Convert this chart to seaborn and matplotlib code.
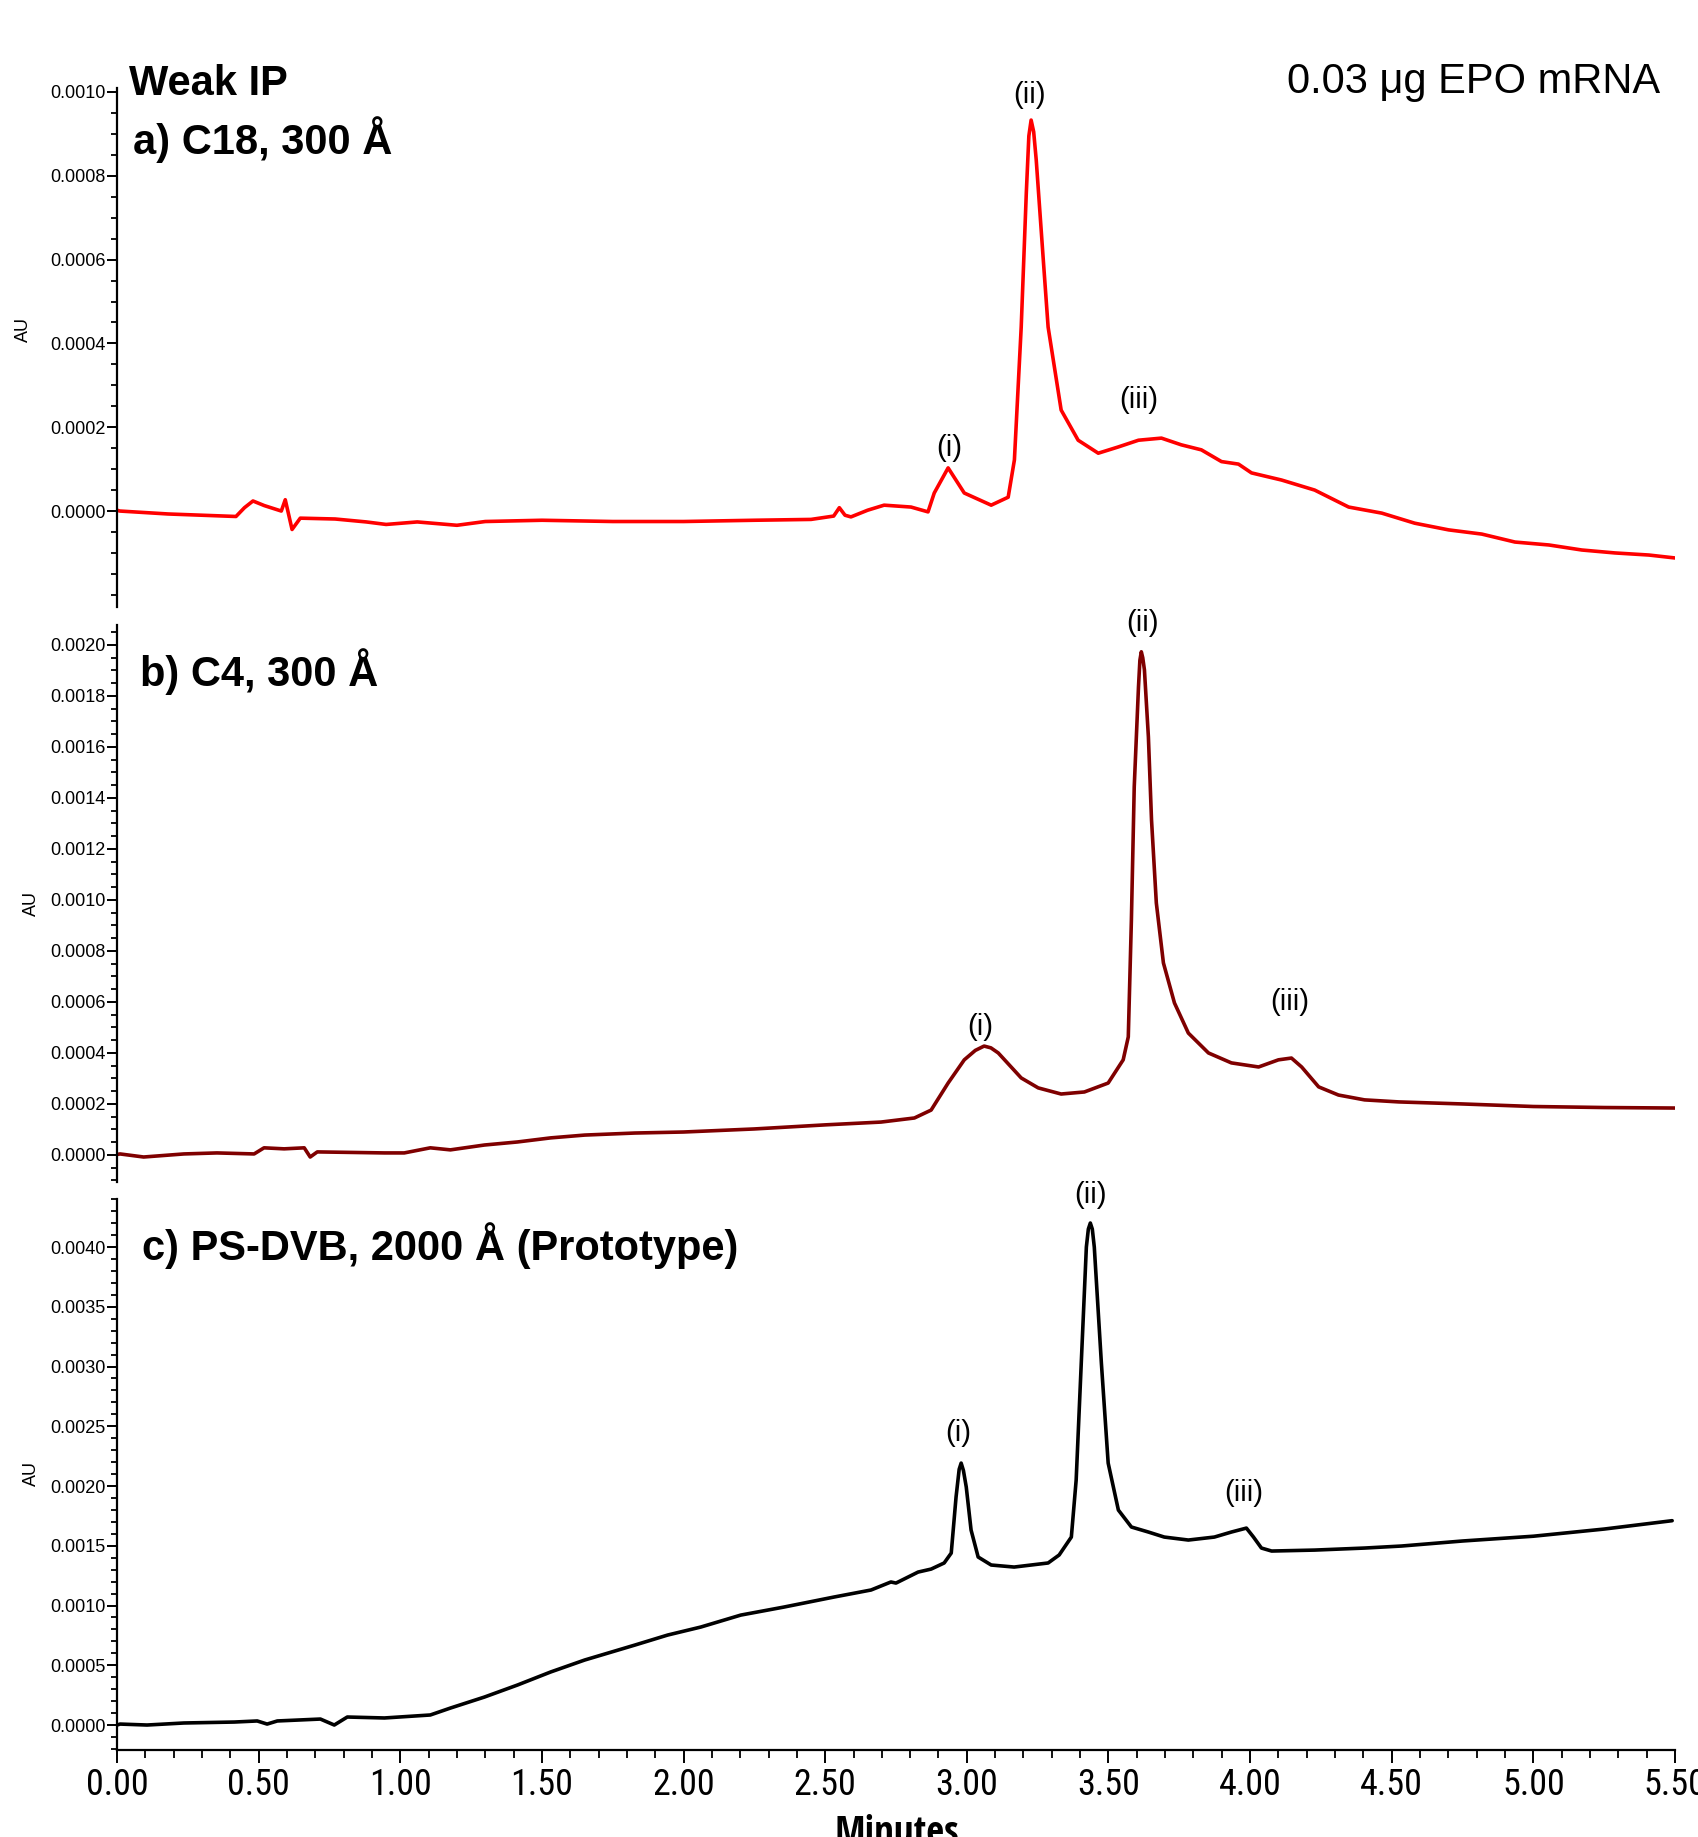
import matplotlib
matplotlib.use("Agg")
import matplotlib.pyplot as plt
import seaborn as sns
import pandas as pd
from matplotlib.ticker import MultipleLocator, FormatStrFormatter
from matplotlib import font_manager
from matplotlib.font_manager import FontProperties

# ---------------- data ----------------
time_a = [0.00, 0.01, 0.18, 0.42, 0.45, 0.48, 0.52, 0.58, 0.594, 0.618, 0.647, 0.77, 0.88,
          0.95, 1.06, 1.20, 1.30, 1.50, 1.75, 2.00, 2.25, 2.45, 2.53, 2.55, 2.57, 2.591,
          2.65, 2.708, 2.803, 2.863, 2.885, 2.934, 2.991, 3.086, 3.146, 3.168, 3.192, 3.210,
          3.219, 3.227, 3.236, 3.245, 3.270, 3.287, 3.333, 3.393, 3.464, 3.535, 3.606, 3.687,
          3.757, 3.828, 3.899, 3.959, 4.005, 4.111, 4.228, 4.348, 4.465, 4.581, 4.701, 4.818,
          4.935, 5.055, 5.171, 5.288, 5.408, 5.50]
au_a = [0.000002, 0.0, -0.000007, -0.000013, 0.000008, 0.000024, 0.000013, 0.0, 0.000027,
        -0.000044, -0.000017, -0.000019, -0.000026, -0.000032, -0.000026, -0.000034,
        -0.000025, -0.000022, -0.000025, -0.000025, -0.000022, -0.000020, -0.000012,
        0.000008, -0.000010, -0.000014, 0.000002, 0.000014, 0.0000095, -0.000002, 0.000043,
        0.000103, 0.000043, 0.000014, 0.000033, 0.000122, 0.000439, 0.000759, 0.000895,
        0.000933, 0.000905, 0.000838, 0.000599, 0.000439, 0.000241, 0.000169, 0.000138,
        0.000153, 0.000169, 0.000174, 0.000158, 0.000146, 0.000118, 0.000112, 0.000091,
        0.000074, 0.000050, 0.0000095, -0.000005, -0.000029, -0.000045, -0.000055,
        -0.000074, -0.000081, -0.000093, -0.000100, -0.000105, -0.000112]

time_b = [0.00, 0.011, 0.094, 0.236, 0.353, 0.484, 0.519, 0.590, 0.661, 0.682, 0.707, 0.944,
          1.014, 1.106, 1.177, 1.297, 1.414, 1.531, 1.651, 1.828, 2.00, 2.25, 2.50, 2.697,
          2.815, 2.874, 2.934, 2.991, 3.030, 3.061, 3.085, 3.111, 3.192, 3.252, 3.333, 3.415,
          3.499, 3.552, 3.570, 3.581, 3.591, 3.606, 3.611, 3.616, 3.621, 3.627, 3.641, 3.652,
          3.669, 3.694, 3.733, 3.782, 3.853, 3.934, 4.030, 4.100, 4.146, 4.182, 4.242, 4.312,
          4.404, 4.525, 4.75, 5.00, 5.25, 5.50]
au_b = [0.000002, 0.000004, -0.000008, 0.000004, 0.000008, 0.000004, 0.000028, 0.000024,
        0.000028, -0.000008, 0.000012, 0.000008, 0.000008, 0.000028, 0.000020, 0.000039,
        0.000051, 0.000067, 0.000078, 0.000086, 0.000090, 0.000102, 0.000118, 0.000129,
        0.000145, 0.000176, 0.000282, 0.000373, 0.000410, 0.000427, 0.000420, 0.000400,
        0.000302, 0.000263, 0.000239, 0.000247, 0.000282, 0.000373, 0.000463, 0.000922,
        0.001443, 0.001835, 0.001940, 0.001973, 0.001950, 0.001902, 0.001639, 0.001314,
        0.000988, 0.000753, 0.000596, 0.000478, 0.000400, 0.000361, 0.000345, 0.000373,
        0.000380, 0.000345, 0.000267, 0.000235, 0.000216, 0.000208, 0.000200, 0.000190,
        0.000186, 0.000184]

time_c = [0.00, 0.011, 0.106, 0.236, 0.414, 0.495, 0.530, 0.566, 0.718, 0.767, 0.813, 0.944,
          1.106, 1.177, 1.297, 1.414, 1.531, 1.651, 1.828, 1.944, 2.061, 2.202, 2.354, 2.531,
          2.662, 2.732, 2.750, 2.828, 2.874, 2.920, 2.945, 2.962, 2.973, 2.980, 2.988, 2.998,
          3.015, 3.040, 3.086, 3.167, 3.287, 3.326, 3.369, 3.386, 3.404, 3.422, 3.429, 3.436,
          3.443, 3.450, 3.475, 3.499, 3.535, 3.581, 3.641, 3.697, 3.782, 3.874, 3.934, 3.987,
          4.012, 4.040, 4.076, 4.228, 4.404, 4.535, 4.75, 5.00, 5.25, 5.49]
au_c = [0.0, 0.000008, 0.0, 0.000017, 0.000025, 0.000034, 0.000008, 0.000034, 0.000050, 0.0,
        0.000067, 0.000059, 0.000084, 0.000142, 0.000234, 0.000335, 0.000444, 0.000544,
        0.000669, 0.000753, 0.000820, 0.000920, 0.000987, 0.001071, 0.001130, 0.001197,
        0.001188, 0.001280, 0.001305, 0.001356, 0.001439, 0.001908, 0.002140, 0.002192,
        0.002130, 0.001992, 0.001632, 0.001406, 0.001339, 0.001322, 0.001356, 0.001423,
        0.001573, 0.002050, 0.003029, 0.004000, 0.004150, 0.004201, 0.004150, 0.004000,
        0.003029, 0.002192, 0.001799, 0.001657, 0.001615, 0.001573, 0.001548, 0.001573,
        0.001615, 0.001648, 0.001573, 0.001481, 0.001456, 0.001464, 0.001481, 0.001498,
        0.001540, 0.001580, 0.001640, 0.001710]

peak_names = ["(i)", "(ii)", "(iii)"]
peaks_a = [(2.937, 0.000150), (3.220, 0.000993), (3.606, 0.000265)]
peaks_b = [(3.047, 0.000502), (3.620, 0.002086), (4.139, 0.000600)]
peaks_c = [(2.970, 0.002443), (3.436, 0.004435), (3.977, 0.001941)]

panel_titles = ["a) C18, 300 Å", "b) C4, 300 Å", "c) PS-DVB, 2000 Å (Prototype)"]
x_ticks = [0.0, 0.5, 1.0, 1.5, 2.0, 2.5, 3.0, 3.5, 4.0, 4.5, 5.0, 5.5]

# ---------------- style ----------------
sns.set_style("ticks")
plt.rcParams['font.family'] = ['Liberation Sans', 'DejaVu Sans']
for k in ['text.color', 'axes.labelcolor', 'xtick.color', 'ytick.color', 'axes.edgecolor']:
    plt.rcParams[k] = 'black'


def find_narrow(bold=False):
    """Look for an installed narrow/condensed sans font file."""
    cands = []
    for f in font_manager.fontManager.ttflist:
        nm = f.name.lower()
        fn = f.fname.lower()
        is_bold = (f.weight in ('bold', 700, 'heavy', 800)) or 'bold' in fn
        if is_bold != bold:
            continue
        if 'italic' in fn or 'oblique' in fn:
            continue
        score = None
        if 'liberation sans narrow' in nm or 'arial narrow' in nm:
            score = 0
        elif 'condensed' in nm or 'condensed' in fn or f.stretch == 'condensed':
            if 'semi' in fn or 'semi' in nm:
                score = 3
            else:
                score = 1 if 'roboto' in nm or 'open' in nm else 2
        if score is not None:
            cands.append((score, f.fname))
    if cands:
        cands.sort()
        return cands[0][1]
    return None


nf = find_narrow(False)
nfb = find_narrow(True)
if nf:
    xtick_fp = FontProperties(fname=nf, size=26)
else:
    xtick_fp = FontProperties(family='Liberation Sans', size=24)
if nfb:
    minutes_fp = FontProperties(fname=nfb, size=28)
else:
    minutes_fp = FontProperties(family='Liberation Sans', weight='bold', size=25)

FW, FH = 1699, 1837
fig = plt.figure(figsize=(FW / 100, FH / 100), dpi=100)
L = 117 / FW
W = (1675 - 117) / FW


def rect(top, bottom):
    return [L, 1 - bottom / FH, W, (bottom - top) / FH]


ax_a = fig.add_axes(rect(88, 607))
ax_b = fig.add_axes(rect(625, 1182))
ax_c = fig.add_axes(rect(1199, 1750))

specs = [
    (ax_a, time_a, au_a, '#ff0000', (-0.000229, 0.0010095), 0.0002, 0.00005, peaks_a),
    (ax_b, time_b, au_b, '#7f0000', (-0.000106, 0.002078), 0.0002, 0.00005, peaks_b),
    (ax_c, time_c, au_c, '#000000', (-0.000209, 0.004402), 0.0005, 0.0001, peaks_c),
]

for ax, t, v, col, ylim, maj, mnr, pks in specs:
    df = pd.DataFrame({"Minutes": t, "AU": v})
    sns.lineplot(data=df, x="Minutes", y="AU", ax=ax, color=col, linewidth=2.6,
                 sort=False, estimator=None)
    ax.set_xlim(0, 5.5)
    ax.set_ylim(*ylim)
    ax.set_xlabel("")
    ax.set_ylabel("")
    for s in ['top', 'right']:
        ax.spines[s].set_visible(False)
    ax.spines['left'].set_linewidth(1.6)
    ax.spines['bottom'].set_linewidth(1.6)
    ax.yaxis.set_major_locator(MultipleLocator(maj))
    ax.yaxis.set_minor_locator(MultipleLocator(mnr))
    ax.yaxis.set_major_formatter(FormatStrFormatter('%.4f'))
    ax.tick_params(axis='y', which='major', direction='out', length=7.5, width=1.4,
                   labelsize=13, pad=0.5, left=True)
    ax.tick_params(axis='y', which='minor', direction='out', length=4, width=1.3, left=True)
    yt = [y for y in ax.get_yticks() if -1e-9 <= y <= ylim[1] + 1e-9]
    ax.set_yticks(yt)
    ax.set_yticklabels(['%.4f' % abs(y) for y in yt])
    for name, (px, py) in zip(peak_names, pks):
        ax.text(px, py, name, ha='center', va='center', fontsize=21, clip_on=False)

for ax in (ax_a, ax_b):
    ax.spines['bottom'].set_visible(False)
    ax.tick_params(axis='x', which='both', bottom=False, labelbottom=False)

ax_c.set_xticks(x_ticks, labels=['%.2f' % x for x in x_ticks])
for lbl in ax_c.get_xticklabels():
    lbl.set_fontproperties(xtick_fp)
ax_c.xaxis.set_minor_locator(MultipleLocator(0.1))
ax_c.tick_params(axis='x', which='major', direction='out', length=9, width=1.4, pad=3,
                 bottom=True)
ax_c.tick_params(axis='x', which='minor', direction='out', length=5.5, width=1.3, bottom=True)


# ---------------- figure texts ----------------
def ftext(x, y, s, **kw):
    fig.text(x / FW, 1 - y / FH, s, **kw)


ftext(129, 95, "Weak IP", fontsize=30, fontweight='bold', va='baseline', ha='left')
ftext(133, 154, panel_titles[0], fontsize=30, fontweight='bold', va='baseline', ha='left')
ftext(140, 686, panel_titles[1], fontsize=30, fontweight='bold', va='baseline', ha='left')
ftext(142, 1260, panel_titles[2], fontsize=30, fontweight='bold', va='baseline', ha='left')
ftext(1660, 93, "0.03 μg EPO mRNA", fontsize=30, va='baseline', ha='right')
ftext(897, 1844, "Minutes", fontproperties=minutes_fp, va='baseline', ha='center')
ftext(23, 329, "AU", fontsize=13, rotation=90, va='center', ha='center')
ftext(31, 903, "AU", fontsize=13, rotation=90, va='center', ha='center')
ftext(31, 1474, "AU", fontsize=13, rotation=90, va='center', ha='center')

fig.savefig("out.png", dpi=100)
